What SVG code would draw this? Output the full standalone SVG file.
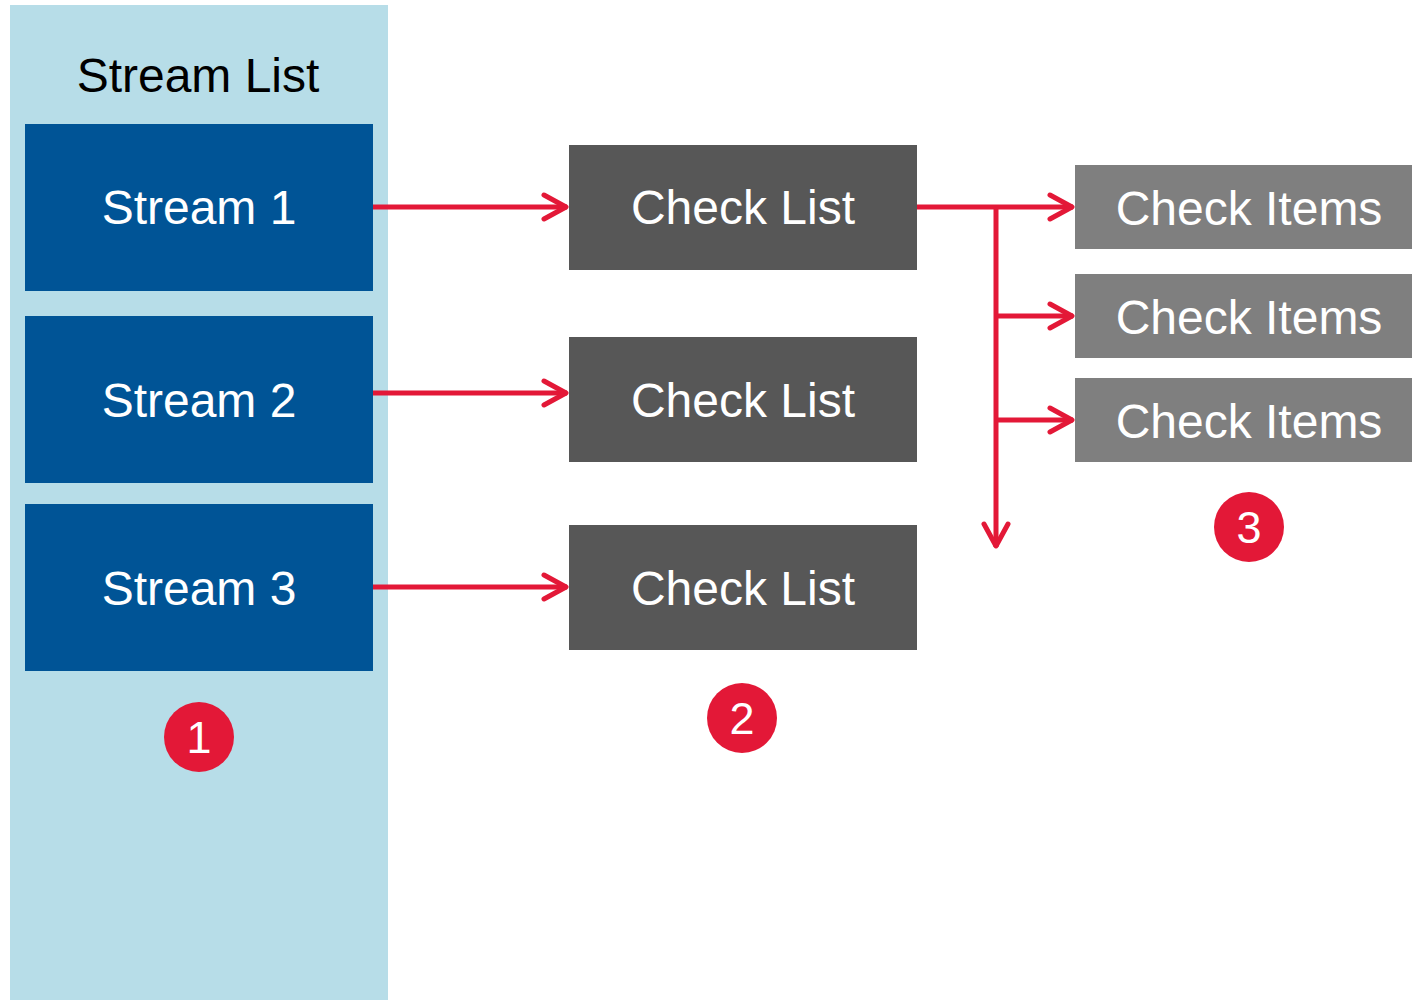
<svg xmlns="http://www.w3.org/2000/svg" width="1412" height="1000" viewBox="0 0 1412 1000">
<defs>
<style>
text{font-family:"Liberation Sans",Arial,sans-serif;text-anchor:middle}
.lbl{font-size:48px;fill:#fff}
.stream{fill:#005496}
.cl{fill:#575757}
.ci{fill:#7f7f7f}
.conn{stroke:#e31837;stroke-width:5;fill:none}
.badge{fill:#e31837}
.num{font-size:45px;fill:#fff}
</style>
<marker id="ah" markerUnits="userSpaceOnUse" markerWidth="30" markerHeight="30" viewBox="-28 -15 30 30" refX="0" refY="0" orient="auto">
<polyline points="-23,-12 -1,0 -23,12" fill="none" stroke="#e31837" stroke-width="5" stroke-linecap="round" stroke-linejoin="round"/>
</marker>
</defs>
<rect x="10" y="5" width="378" height="995" fill="#b7dde8"/>
<text x="198" y="92" style="font-size:48px;fill:#000">Stream List</text>
<g id="stream1"><rect class="stream" x="25" y="124" width="348" height="167"/><text class="lbl" x="199" y="224">Stream 1</text></g>
<g id="stream2"><rect class="stream" x="25" y="316" width="348" height="167"/><text class="lbl" x="199" y="417">Stream 2</text></g>
<g id="stream3"><rect class="stream" x="25" y="504" width="348" height="167"/><text class="lbl" x="199" y="605">Stream 3</text></g>
<g id="checklist1"><rect class="cl" x="569" y="145" width="348" height="125"/><text class="lbl" x="743" y="224">Check List</text></g>
<g id="checklist2"><rect class="cl" x="569" y="337" width="348" height="125"/><text class="lbl" x="743" y="417">Check List</text></g>
<g id="checklist3"><rect class="cl" x="569" y="525" width="348" height="125"/><text class="lbl" x="743" y="605">Check List</text></g>
<g id="checkitems1"><rect class="ci" x="1075" y="165" width="337" height="84"/><text class="lbl" x="1249" y="225">Check Items</text></g>
<g id="checkitems2"><rect class="ci" x="1075" y="274" width="337" height="84"/><text class="lbl" x="1249" y="334">Check Items</text></g>
<g id="checkitems3"><rect class="ci" x="1075" y="378" width="337" height="84"/><text class="lbl" x="1249" y="438">Check Items</text></g>
<g id="connectors">
<line class="conn" x1="373" y1="207" x2="567" y2="207" marker-end="url(#ah)"/>
<line class="conn" x1="373" y1="393" x2="567" y2="393" marker-end="url(#ah)"/>
<line class="conn" x1="373" y1="587" x2="567" y2="587" marker-end="url(#ah)"/>
<line class="conn" x1="917" y1="207" x2="1073" y2="207" marker-end="url(#ah)"/>
<line class="conn" x1="996" y1="207" x2="996" y2="547" marker-end="url(#ah)"/>
<line class="conn" x1="996" y1="316" x2="1073" y2="316" marker-end="url(#ah)"/>
<line class="conn" x1="996" y1="420" x2="1073" y2="420" marker-end="url(#ah)"/>
</g>
<g id="badge1"><circle class="badge" cx="199" cy="737" r="35"/><text class="num" x="199" y="753">1</text></g>
<g id="badge2"><circle class="badge" cx="742" cy="718" r="35"/><text class="num" x="742" y="734">2</text></g>
<g id="badge3"><circle class="badge" cx="1249" cy="527" r="35"/><text class="num" x="1249" y="543">3</text></g>
</svg>
